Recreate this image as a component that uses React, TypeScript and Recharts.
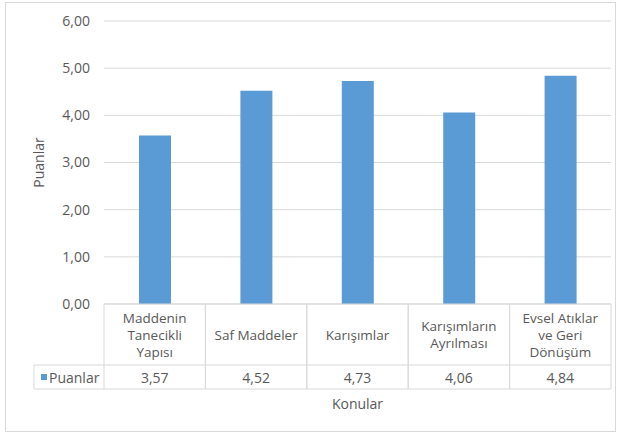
import React from "react";
import { BarChart, Bar, XAxis, YAxis, CartesianGrid } from "recharts";

// Topics (category labels, line breaks as shown in the data table)
const topics = [
  "Maddenin\nTanecikli\nYapısı",
  "Saf Maddeler",
  "Karışımlar",
  "Karışımların\nAyrılması",
  "Evsel Atıklar\nve Geri\nDönüşüm",
];

// Mean scores per topic
const scores = [3.57, 4.52, 4.73, 4.06, 4.84];

// Y axis ticks
const yTicks = [0, 1, 2, 3, 4, 5, 6];

const seriesName = "Puanlar";
const xTitle = "Konular";
const yTitle = "Puanlar";

const data = topics.map((name, i) => ({ name, value: scores[i] }));

const W = 621;
const H = 434;
const Y_AXIS_W = 104;
const MARGIN = { top: 21, right: 10, left: 0, bottom: 45 };
const X_AXIS_H = 85;
const PLOT_W = W - Y_AXIS_W - MARGIN.left - MARGIN.right;
const COL_W = PLOT_W / topics.length;
const CAT_ROW_H = 61;
const VAL_ROW_H = 24;
const LEGEND_W = 70;

const FONT = "'Open Sans', sans-serif";
const TEXT = "#595959";
const LINE = "#d9d9d9";
const BAR = "#5b9bd5";

const fmt = (v: number) => v.toFixed(2).replace(".", ",");

// One column of the data table under the plot: topic cell + value cell
const TableTick = (props: any) => {
  const { x, y, index } = props;
  const left = x - COL_W / 2;
  const right = x + COL_W / 2;
  const lines = topics[index].split("\n");
  const lineH = 17;
  const catMid = y + CAT_ROW_H / 2;
  const firstY = catMid - ((lines.length - 1) * lineH) / 2;
  const valMid = y + CAT_ROW_H + VAL_ROW_H / 2;
  const bottom = y + CAT_ROW_H + VAL_ROW_H;
  return (
    <g>
      <line x1={left} y1={y} x2={right} y2={y} stroke={LINE} />
      <line x1={left} y1={y + CAT_ROW_H} x2={right} y2={y + CAT_ROW_H} stroke={LINE} />
      <line x1={left} y1={bottom} x2={right} y2={bottom} stroke={LINE} />
      <line x1={left} y1={y} x2={left} y2={bottom} stroke={LINE} />
      <line x1={right} y1={y} x2={right} y2={bottom} stroke={LINE} />
      {lines.map((t, i) => (
        <text
          key={i}
          x={x}
          y={firstY + i * lineH}
          textAnchor="middle"
          dominantBaseline="central"
          fill={TEXT}
          fontSize={13.5}
          fontFamily={FONT}
        >
          {t}
        </text>
      ))}
      <text
        x={x}
        y={valMid}
        textAnchor="middle"
        dominantBaseline="central"
        fill={TEXT}
        fontSize={14}
        fontFamily={FONT}
      >
        {fmt(scores[index])}
      </text>
      {index === 0 && (
        <g>
          <line x1={left - LEGEND_W} y1={y + CAT_ROW_H} x2={left} y2={y + CAT_ROW_H} stroke={LINE} />
          <line x1={left - LEGEND_W} y1={bottom} x2={left} y2={bottom} stroke={LINE} />
          <line x1={left - LEGEND_W} y1={y + CAT_ROW_H} x2={left - LEGEND_W} y2={bottom} stroke={LINE} />
          <rect x={left - LEGEND_W + 7} y={valMid - 3} width={6} height={6} fill={BAR} />
          <text
            x={left - LEGEND_W + 15}
            y={valMid}
            dominantBaseline="central"
            fill={TEXT}
            fontSize={14}
            fontFamily={FONT}
          >
            {seriesName}
          </text>
        </g>
      )}
    </g>
  );
};

export default function App() {
  return (
    <div style={{ position: "absolute", left: 0, top: 0, width: W, height: H, background: "#fff" }}>
      <div
        style={{
          position: "absolute",
          left: 5,
          top: 2,
          width: 611,
          height: 430,
          border: `1px solid ${LINE}`,
          boxSizing: "border-box",
        }}
      />
      <div style={{ position: "absolute", left: 0, top: 0 }}>
        <BarChart width={W} height={H} data={data} margin={MARGIN} barCategoryGap={0}>
          <CartesianGrid vertical={false} stroke={LINE} />
          <XAxis
            dataKey="name"
            height={X_AXIS_H}
            interval={0}
            axisLine={false}
            tickLine={false}
            tickSize={0}
            tickMargin={0}
            tick={(p: any) => <TableTick {...p} />}
            label={(p: any) => {
              const vb = p.viewBox;
              return (
                <text
                  x={vb.x + vb.width / 2}
                  y={vb.y + vb.height + 14}
                  textAnchor="middle"
                  dominantBaseline="central"
                  fill={TEXT}
                  fontSize={14}
                  fontFamily={FONT}
                >
                  {xTitle}
                </text>
              );
            }}
          />
          <YAxis
            width={Y_AXIS_W}
            domain={[0, 6]}
            ticks={yTicks}
            interval={0}
            axisLine={false}
            tickLine={false}
            tickSize={0}
            tickMargin={14}
            tickFormatter={fmt}
            tick={{ fill: TEXT, fontSize: 14, fontFamily: FONT }}
            label={(p: any) => {
              const vb = p.viewBox;
              const cx = 38;
              const cy = vb.y + vb.height / 2;
              return (
                <text
                  x={cx}
                  y={cy}
                  transform={`rotate(-90 ${cx} ${cy})`}
                  textAnchor="middle"
                  dominantBaseline="central"
                  fill={TEXT}
                  fontSize={14}
                  fontFamily={FONT}
                >
                  {yTitle}
                </text>
              );
            }}
          />
          <Bar dataKey="value" fill={BAR} barSize={32} isAnimationActive={false} />
        </BarChart>
      </div>
    </div>
  );
}
